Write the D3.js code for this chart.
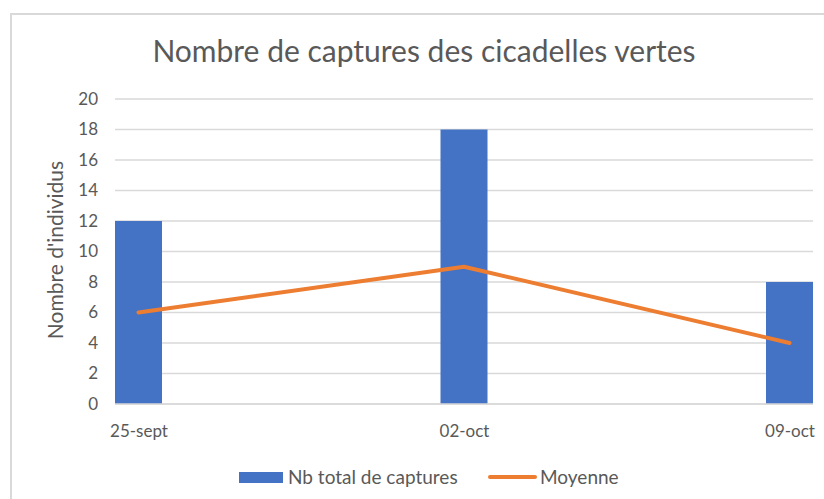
<!DOCTYPE html>
<html>
<head>
<meta charset="utf-8">
<script src="https://cdn.jsdelivr.net/npm/d3@7"></script>
<style>
  html, body { margin: 0; padding: 0; background: #fff; }
  svg { display: block; font-family: Lato, "Open Sans", sans-serif; }
</style>
</head>
<body>
<svg id="chart" width="824" height="499"></svg>
<script>
const categories = ["25-sept", "02-oct", "09-oct"];
const totalCaptures = [12, 18, 8];
const moyenne = [6, 9, 4];
const yTicks = [0, 2, 4, 6, 8, 10, 12, 14, 16, 18, 20];
const title = "Nombre de captures des cicadelles vertes";
const yTitle = "Nombre d'individus";
const seriesNames = ["Nb total de captures", "Moyenne"];

const svg = d3.select("#chart");
const textColor = "#595959";
const gridColor = "#D9D9D9";
const blue = "#4472C4";
const orange = "#ED7D31";

// frame
svg.append("rect").attr("x", 11).attr("y", 14).attr("width", 830).attr("height", 520)
  .attr("fill", "none").attr("stroke", gridColor).attr("stroke-width", 2);

const plotLeft = 115, plotRight = 813, plotTop = 99, plotBottom = 404;
const x = d3.scalePoint().domain(categories).range([plotLeft, plotRight]).padding(23.5 / 325.5);
const barWidth = 47;
const y = d3.scaleLinear().domain([0, 20]).range([plotBottom, plotTop]);

// gridlines
svg.append("g").selectAll("line").data(yTicks).join("line")
  .attr("x1", plotLeft).attr("x2", plotRight)
  .attr("y1", d => y(d)).attr("y2", d => y(d))
  .attr("stroke", gridColor).attr("stroke-width", 1.5);

// y axis labels
const yAxis = d3.axisLeft(y).tickValues(yTicks).tickSize(0).tickPadding(0);
const yg = svg.append("g").attr("transform", `translate(${plotLeft - 17},0)`).call(yAxis);
yg.select(".domain").remove();
yg.selectAll("text").attr("fill", textColor).style("font-size", "17px").style("font-family", "Lato, sans-serif");

// bars
svg.append("g").selectAll("rect").data(categories).join("rect")
  .attr("x", d => x(d) - barWidth / 2)
  .attr("y", (d, i) => y(totalCaptures[i]))
  .attr("width", barWidth)
  .attr("height", (d, i) => y(0) - y(totalCaptures[i]))
  .attr("fill", blue);

// x axis
const xAxis = d3.axisBottom(x).tickSize(0).tickPadding(0);
const xg = svg.append("g").attr("transform", `translate(0,${plotBottom + 21})`).call(xAxis);
xg.select(".domain").remove();
xg.selectAll("text").attr("fill", textColor).style("font-size", "17px").style("font-family", "Lato, sans-serif");

// bottom axis line
svg.append("line").attr("x1", plotLeft).attr("x2", plotRight)
  .attr("y1", y(0)).attr("y2", y(0)).attr("stroke", gridColor).attr("stroke-width", 1.5);

// line
const line = d3.line().x((d, i) => x(categories[i])).y(d => y(d));
svg.append("path").datum(moyenne).attr("d", line)
  .attr("fill", "none").attr("stroke", orange).attr("stroke-width", 4)
  .attr("stroke-linecap", "round").attr("stroke-linejoin", "round");

// title
svg.append("text").attr("x", 424).attr("y", 62).attr("text-anchor", "middle")
  .attr("fill", textColor).style("font-size", "30px").text(title);

// y title
svg.append("text").attr("transform", "translate(63,250) rotate(-90)")
  .attr("text-anchor", "middle").attr("fill", textColor).style("font-size", "21px").text(yTitle);

// legend
const lg = svg.append("g");
lg.append("rect").attr("x", 239).attr("y", 472).attr("width", 44).attr("height", 11).attr("fill", blue);
lg.append("text").attr("x", 288).attr("y", 484).attr("fill", textColor).style("font-size", "19px").text(seriesNames[0]);
lg.append("line").attr("x1", 490).attr("x2", 535).attr("y1", 477).attr("y2", 477)
  .attr("stroke", orange).attr("stroke-width", 4).attr("stroke-linecap", "round");
lg.append("text").attr("x", 540).attr("y", 484).attr("fill", textColor).style("font-size", "19px").text(seriesNames[1]);
</script>
</body>
</html>
